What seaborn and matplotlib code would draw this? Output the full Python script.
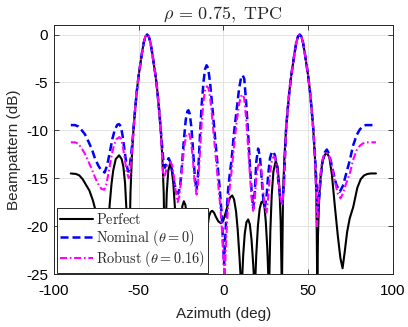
import matplotlib
matplotlib.use("Agg")
import matplotlib.pyplot as plt
import seaborn as sns

# beampattern values (azimuth deg, dB)
lobe_left = [(-52, -7.7), (-51, -5.8), (-50, -4.3), (-49, -3.1), (-48, -1.9), (-47, -0.85),
             (-46, -0.2), (-45, 0.0), (-44, -0.2), (-43, -0.85), (-42, -1.9), (-41, -3.1),
             (-40, -4.3), (-39, -5.8), (-38, -7.7)]
lobe_right = [(38, -7.7), (39, -5.8), (40, -4.3), (41, -3.1), (42, -1.9), (43, -0.85),
              (44, -0.2), (45, 0.0), (46, -0.2), (47, -0.85), (48, -1.9), (49, -3.1),
              (50, -4.3), (51, -5.8), (52, -7.7)]

perfect = ([(-90, -14.5), (-87, -14.55), (-85, -14.7), (-83, -15.1), (-81, -15.7), (-79, -16.3),
            (-77, -17.3), (-75.5, -18.3), (-74, -19.5), (-72.5, -21.5), (-71, -24.4), (-70, -23.8),
            (-69, -22.0), (-68, -19.8), (-67, -17.6), (-66, -15.6), (-65, -14.2), (-63.5, -13.0),
            (-61.5, -12.6), (-60, -13.0), (-59, -13.8), (-58, -15.5), (-57.1, -18.6), (-56.4, -22.5),
            (-55.7, -27), (-55.3, -21), (-54.8, -16.5), (-54, -12.8), (-53, -9.8)]
           + lobe_left +
           [(-37, -9.8), (-36, -12.8), (-35.2, -16.5), (-34.8, -21), (-34.5, -27), (-34.0, -20),
            (-33.4, -16.5), (-32.5, -14.2), (-31.5, -13.5), (-30.5, -14.0), (-29.5, -15.6),
            (-28.5, -18.3), (-27.5, -22), (-26.3, -27), (-25.8, -22), (-25.0, -19.3), (-24.2, -17.9),
            (-23.3, -17.4), (-22.4, -17.8), (-21.5, -19.0), (-20.5, -21.2), (-19.7, -24), (-18.8, -27),
            (-18.0, -23.5), (-17.0, -21.0), (-16.0, -19.8), (-15.0, -19.4), (-14.0, -19.9),
            (-13.2, -21.5), (-12.3, -24), (-11.4, -27), (-10.5, -23), (-9.5, -20.2), (-8.5, -19.0),
            (-7.5, -18.5), (-6.5, -18.4), (-5.5, -18.6), (-4.5, -19.0), (-3.0, -19.5), (-1.5, -19.7),
            (0.0, -19.4), (1.5, -18.5), (3.0, -17.5), (4.0, -17.0), (5.2, -16.8), (6.3, -17.2),
            (7.5, -18.5), (8.5, -20.5), (9.6, -23.5), (10.7, -27), (11.7, -23), (12.6, -20.8),
            (13.6, -19.6), (14.6, -19.3), (15.6, -19.8), (16.6, -21.4), (17.6, -24), (18.5, -27),
            (19.4, -23), (20.4, -19.9), (21.4, -18.2), (22.4, -17.5), (23.3, -17.4), (24.2, -17.9),
            (25.0, -19.5), (25.9, -22.3), (26.9, -27), (27.7, -20.5), (28.5, -16.8), (29.5, -14.3),
            (30.9, -13.2), (32.0, -13.8), (33.0, -15.8), (33.8, -19.5), (34.5, -27), (34.9, -21),
            (35.2, -16.5), (36, -12.8), (37, -9.8)]
           + lobe_right +
           [(53, -9.8), (54, -12.8), (54.8, -16.5), (55.1, -21), (55.4, -27), (55.8, -21),
            (56.5, -17), (57.5, -14.5), (58.5, -13.2), (60, -12.5), (61.2, -12.4), (62.5, -12.8),
            (64, -14.6), (65.8, -18.0), (67.5, -21.0), (69, -23.3), (70.3, -24.4), (71.5, -22.8),
            (73, -20.6), (74.5, -19.2), (76.6, -18.0), (79, -16.0), (81, -15.1), (83, -14.7),
            (85, -14.55), (87, -14.5), (90, -14.5)])

nominal = ([(-90, -9.45), (-87.5, -9.45), (-85.5, -9.6), (-83.5, -10.0), (-81.7, -10.4),
            (-79.5, -11.2), (-77.5, -12.0), (-76, -12.8), (-74, -13.6), (-72, -14.2), (-70, -14.4),
            (-68.5, -13.6), (-67, -12.3), (-65.5, -10.9), (-64, -9.9), (-62.5, -9.4), (-61.5, -9.35),
            (-60.5, -9.6), (-59.5, -10.5), (-58.5, -11.8), (-57.3, -13.4), (-56.2, -14.3),
            (-55.2, -13.7), (-54.3, -12.3), (-53.5, -10.9), (-53, -9.8)]
           + lobe_left +
           [(-37, -9.8), (-36, -12.0), (-35.2, -13.6), (-34.5, -13.9), (-33.5, -13.4), (-32.3, -12.9),
            (-31.3, -13.3), (-30.3, -14.2), (-29, -15.5), (-27.7, -16.4), (-26.6, -16.6),
            (-25.5, -15.8), (-24.5, -13.8), (-23.3, -11.0), (-22.2, -8.9), (-21.2, -8.0),
            (-20.6, -7.9), (-19.8, -8.3), (-18.8, -9.8), (-17.8, -12.3), (-16.8, -15.0),
            (-15.8, -16.2), (-14.9, -14.5), (-13.9, -10.8), (-12.8, -7.3), (-11.7, -4.9),
            (-10.8, -3.6), (-9.9, -3.2), (-9.0, -3.5), (-8.0, -4.8), (-7.0, -6.6), (-6.0, -8.6),
            (-5.0, -10.6), (-4.0, -12.5), (-3.0, -14.4), (-2.1, -16.2), (-1.0, -18.8), (-0.3, -21.5),
            (0.4, -24.0), (1.0, -21.5), (1.8, -18.8), (2.8, -16.2), (3.8, -14.5), (4.8, -13.1),
            (6.3, -10.2), (7.8, -7.9), (9.3, -5.6), (10.4, -4.55), (11.4, -4.25), (12.3, -4.6),
            (13.4, -7.0), (14.6, -10.3), (15.6, -13.5), (16.6, -16.2), (17.6, -18.2), (18.5, -16.5),
            (19.4, -13.3), (20.5, -11.9), (21.6, -12.8), (22.6, -15.0), (23.6, -17.3), (24.5, -18.0),
            (25.5, -16.8), (26.5, -14.5), (27.5, -12.9), (28.5, -12.3), (29.4, -12.2), (30.4, -12.6),
            (31.5, -13.7), (32.6, -15.6), (33.7, -17.2), (34.7, -17.6), (35.5, -16.2), (36.2, -13.4),
            (37, -9.8)]
           + lobe_right +
           [(53, -9.8), (54, -12.6), (55, -15.8), (55.7, -18.3), (56.5, -17.0), (57.5, -14.8),
            (58.5, -13.2), (59.8, -12.3), (61, -12.0), (62.2, -12.4), (63.5, -13.3), (65, -14.5),
            (66.5, -15.6), (68.7, -16.4), (70.5, -15.8), (72.5, -14.5), (74.6, -13.1), (76.5, -11.6),
            (78.6, -10.5), (80.5, -9.9), (82.5, -9.55), (84, -9.45), (90, -9.45)])

robust = ([(-90, -11.25), (-87.5, -11.25), (-85.5, -11.4), (-83.5, -11.9), (-81.5, -12.5),
           (-79.5, -13.3), (-77.5, -14.1), (-75.5, -15.0), (-73.5, -15.7), (-72, -16.1),
           (-70.3, -16.2), (-69, -15.6), (-67.5, -14.2), (-66, -12.7), (-64.5, -11.5), (-63, -10.9),
           (-61.3, -10.7), (-60.3, -10.9), (-59.3, -11.7), (-58.3, -12.8), (-57.1, -14.3),
           (-55.8, -15.0), (-55, -14.5), (-54.3, -12.9), (-53.5, -11.0), (-53, -9.8)]
          + lobe_left +
          [(-37, -9.8), (-36.5, -11.5), (-36, -13.5), (-35.3, -15.0), (-34.3, -14.6), (-33, -13.6),
           (-31.3, -13.3), (-30.3, -13.6), (-29.2, -14.8), (-28, -16.5), (-27, -17.5), (-26, -16.9),
           (-25, -15.3), (-24, -13.2), (-23, -11.6), (-22, -10.6), (-21, -10.3), (-20, -10.4),
           (-19, -11.3), (-18, -13.0), (-17, -15.3), (-15.8, -16.7), (-14.8, -15.2), (-13.8, -12.3),
           (-12.8, -9.2), (-11.7, -6.9), (-10.7, -5.7), (-9.7, -5.4), (-8.8, -5.6), (-7.8, -6.6),
           (-6.8, -8.3), (-5.8, -10.3), (-4.8, -12.2), (-3.8, -14.1), (-2.8, -16.0), (-1.8, -18.0),
           (-0.8, -20.5), (0.0, -23.0), (0.7, -25.5), (1.4, -22.5), (2.2, -19.5), (3.2, -16.8),
           (4.8, -14.3), (6.3, -11.6), (7.8, -9.2), (9.3, -7.2), (10.4, -6.45), (11.3, -6.25),
           (12.2, -6.6), (13.3, -8.5), (14.5, -11.5), (15.6, -14.5), (16.6, -17.0), (17.5, -18.4),
           (18.4, -17.5), (19.4, -15.0), (20.4, -13.7), (21.4, -13.4), (22.4, -14.2), (23.4, -16.2),
           (24.4, -18.0), (25.4, -18.6), (26.3, -17.3), (27.3, -15.0), (28.3, -13.4), (29.2, -12.85),
           (30.1, -12.75), (31.1, -13.2), (32.2, -14.8), (33.4, -16.8), (34.8, -17.8), (35.6, -16.0),
           (36.3, -12.8), (37, -9.8)]
          + lobe_right +
          [(53, -9.8), (54, -12.8), (54.7, -16.5), (55.3, -20.0), (55.9, -18.0), (56.8, -15.5),
           (57.8, -13.7), (59, -12.7), (60.4, -12.4), (61.8, -12.4), (63, -13.0), (64.5, -14.2),
           (66, -15.5), (67.5, -16.6), (69.1, -17.1), (70.5, -16.6), (72.5, -15.5), (74.6, -14.5),
           (76.5, -13.1), (78.5, -12.1), (80.5, -11.6), (82.5, -11.35), (84.5, -11.25), (90, -11.25)])

labels = [r"$\mathrm{Perfect}$", r"$\mathrm{Nominal}\ (\theta{=}0)$", r"$\mathrm{Robust}\ (\theta{=}0.16)$"]
colors = ["black", "#0000ff", "#ff00ff"]
widths = [1.5, 1.8, 1.5]
dashes = [None, (3.2, 1.6), (3.4, 1.3, 0.8, 1.3)]

sns.set_theme(style="ticks")
plt.rcParams["font.family"] = ["Liberation Sans", "DejaVu Sans"]
plt.rcParams["mathtext.fontset"] = "cm"
plt.rcParams["axes.unicode_minus"] = False

fig, ax = plt.subplots(figsize=(4.08, 3.27), dpi=100)
fig.subplots_adjust(left=0.132, right=0.963, top=0.9235, bottom=0.162)

for pts, lab, col, lw, ds in zip([perfect, nominal, robust], labels, colors, widths, dashes):
    az = [p[0] for p in pts]
    db = [p[1] for p in pts]
    sns.lineplot(x=az, y=db, sort=False, color=col, linewidth=lw, label=lab, ax=ax)
    if ds is not None:
        ax.lines[-1].set_dashes(ds)

ax.set_xlim(-100, 100)
ax.set_ylim(-25, 1)
ax.set_xticks([-100, -50, 0, 50, 100])
ax.set_yticks([-25, -20, -15, -10, -5, 0])
ax.grid(True, color="#dfdfdf", linewidth=0.6)
ax.set_axisbelow(True)
for s in ax.spines.values():
    s.set_color("#262626")
    s.set_linewidth(0.7)
ax.tick_params(direction="in", top=True, right=True, length=3.5, width=0.6,
               labelsize=11, colors="#262626", labelcolor="black")
ax.tick_params(axis="x", pad=7)
ax.tick_params(axis="y", pad=4)
ax.set_xlabel("Azimuth (deg)", fontsize=11, labelpad=7)
ax.set_ylabel("Beampattern (dB)", fontsize=11, labelpad=4)
ax.set_title(r"$\rho\,=\,0.75,\ \mathrm{TPC}$", fontsize=13, pad=4)

leg = ax.legend(loc="lower left", bbox_to_anchor=(0.009, 0.004), borderaxespad=0,
                fontsize=10.3, handlelength=2.3, handletextpad=0.15, labelspacing=0.1,
                borderpad=0.25, fancybox=False, framealpha=1)
leg.get_frame().set_edgecolor("#262626")
leg.get_frame().set_linewidth(0.7)

fig.savefig("out.png", dpi=100)
